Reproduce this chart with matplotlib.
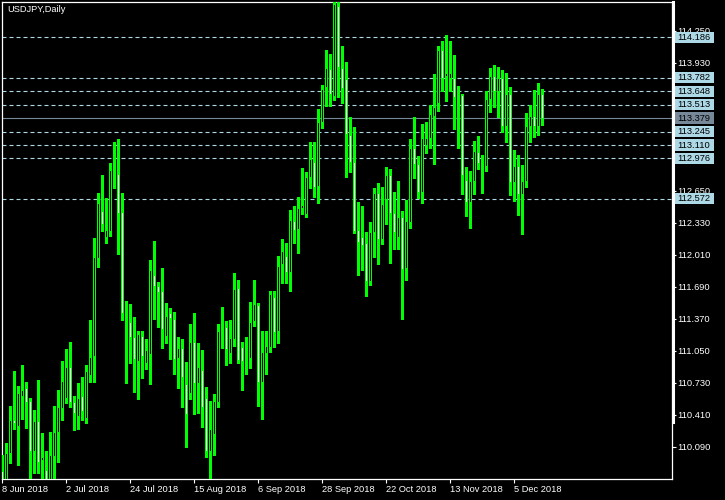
import matplotlib
matplotlib.use("Agg")
import matplotlib.pyplot as plt
import matplotlib.transforms as mtransforms
from matplotlib.patches import Rectangle
from matplotlib.lines import Line2D

plt.rcParams['font.family'] = ['Liberation Sans', 'DejaVu Sans']

# daily USDJPY bars, 8 Jun 2018 .. 14 Dec 2018
opens = [109.85, 109.70, 110.03, 110.36, 110.30, 110.60, 110.68, 110.54, 110.05, 110.35,
         109.96, 109.86, 109.70, 110.00, 110.24, 110.48, 110.58, 110.89, 110.54, 110.40,
         110.60, 110.38, 110.81, 111.00, 111.98, 112.45, 112.19, 112.25, 112.86, 112.82,
         112.44, 111.36, 111.34, 111.19, 110.95, 111.20, 110.93, 111.02, 111.81, 111.70,
         111.65, 111.20, 111.43, 111.37, 110.98, 111.08, 110.72, 110.63, 111.14, 110.73,
         110.86, 110.58, 110.05, 110.22, 110.54, 111.23, 111.29, 111.03, 111.17, 111.68,
         111.09, 111.04, 110.98, 111.35, 111.51, 110.74, 111.03, 111.09, 111.59, 111.25,
         111.92, 112.00, 111.84, 112.35, 112.27, 112.48, 112.42, 112.79, 112.94, 112.70,
         113.34, 113.69, 113.87, 113.60, 114.50, 113.88, 113.77, 113.21, 112.94, 112.26,
         112.18, 112.13, 111.75, 112.24, 112.63, 112.17, 112.57, 112.81, 112.43, 112.19,
         112.39, 111.88, 112.34, 113.08, 112.92, 112.64, 113.11, 113.18, 113.40, 113.53,
         114.06, 113.80, 113.78, 113.78, 113.59, 113.61, 112.76, 112.54, 112.75, 113.04,
         112.93, 112.90, 113.57, 113.80, 113.65, 113.78, 113.30, 113.62, 112.74, 112.90,
         112.62, 112.75, 113.30, 113.40, 113.30, 113.62]
highs = [110.00, 110.12, 110.49, 110.84, 110.69, 110.90, 110.73, 110.57, 110.45, 110.75,
         110.22, 110.04, 110.23, 110.49, 110.65, 110.94, 111.06, 111.13, 110.59, 110.72,
         110.78, 110.90, 111.35, 112.17, 112.62, 112.80, 112.57, 112.92, 113.13, 113.16,
         112.62, 111.54, 111.51, 111.38, 111.24, 111.24, 111.16, 111.95, 112.14, 111.73,
         111.87, 111.52, 111.47, 111.43, 111.18, 111.16, 110.93, 111.31, 111.42, 111.12,
         111.05, 110.68, 110.54, 110.61, 111.31, 111.48, 111.34, 111.35, 111.82, 111.75,
         111.13, 111.18, 111.53, 111.75, 111.52, 111.24, 111.24, 111.64, 111.64, 111.99,
         112.16, 112.12, 112.45, 112.49, 112.58, 112.87, 112.83, 113.13, 113.13, 113.46,
         113.70, 114.05, 114.01, 114.53, 114.53, 114.09, 113.93, 113.38, 113.28, 112.53,
         112.49, 112.23, 112.33, 112.67, 112.72, 112.68, 112.88, 112.86, 112.63, 112.74,
         112.44, 112.55, 113.16, 113.38, 112.99, 113.31, 113.33, 113.50, 113.81, 114.09,
         114.14, 114.20, 114.14, 114.00, 113.69, 113.61, 112.88, 112.84, 113.14, 113.19,
         113.00, 113.64, 113.87, 113.90, 113.88, 113.85, 113.82, 113.68, 113.05, 113.00,
         112.90, 113.42, 113.50, 113.65, 113.72, 113.66]
lows = [109.60, 109.60, 109.94, 110.28, 109.92, 110.38, 110.29, 109.75, 109.84, 109.84,
        109.79, 109.60, 109.60, 109.75, 109.95, 110.37, 110.54, 110.50, 110.27, 110.28,
        110.37, 110.34, 110.75, 110.75, 111.90, 112.26, 112.14, 112.21, 112.69, 112.03,
        111.37, 110.74, 110.94, 110.65, 110.58, 110.79, 110.88, 110.73, 111.38, 111.30,
        111.09, 111.14, 110.98, 110.83, 110.69, 110.50, 110.10, 110.58, 110.43, 110.44,
        110.30, 110.00, 109.77, 110.02, 110.50, 111.09, 110.92, 110.94, 111.11, 110.94,
        110.67, 110.83, 110.89, 111.31, 110.51, 110.38, 110.83, 111.05, 111.10, 111.14,
        111.74, 111.74, 111.66, 112.14, 112.04, 112.43, 112.40, 112.69, 112.60, 112.54,
        113.29, 113.51, 113.51, 113.57, 113.60, 113.54, 112.80, 112.85, 112.24, 111.82,
        111.87, 111.61, 111.72, 112.00, 111.93, 112.13, 112.33, 111.94, 112.08, 112.08,
        111.38, 111.77, 112.29, 112.79, 112.59, 112.54, 113.04, 113.09, 112.93, 113.46,
        113.66, 113.56, 113.66, 113.28, 113.09, 112.63, 112.41, 112.29, 112.63, 112.88,
        112.64, 112.86, 113.45, 113.50, 113.40, 113.25, 113.15, 112.62, 112.56, 112.42,
        112.23, 112.70, 113.15, 113.20, 113.22, 113.32]
closes = [109.72, 110.03, 110.36, 110.33, 110.62, 110.66, 110.54, 110.05, 110.35, 109.94,
          109.98, 109.70, 110.01, 110.24, 110.48, 110.75, 110.89, 110.54, 110.43, 110.58,
          110.45, 110.84, 110.99, 111.99, 112.53, 112.32, 112.26, 112.86, 112.84, 112.43,
          111.43, 111.34, 111.19, 110.97, 111.22, 111.00, 111.06, 111.86, 111.70, 111.64,
          111.27, 111.40, 111.38, 110.97, 111.08, 110.79, 110.42, 111.14, 110.73, 110.89,
          110.49, 110.05, 110.27, 110.54, 111.25, 111.25, 111.07, 111.18, 111.67, 110.96,
          110.95, 111.03, 111.34, 111.52, 110.74, 111.04, 111.10, 111.62, 111.24, 111.90,
          112.05, 111.84, 112.36, 112.26, 112.48, 112.51, 112.79, 112.97, 112.69, 113.34,
          113.67, 113.88, 113.62, 114.52, 113.89, 113.68, 113.22, 112.94, 112.25, 112.14,
          112.11, 111.75, 112.24, 112.63, 112.17, 112.52, 112.81, 112.43, 112.24, 112.39,
          111.87, 112.35, 113.08, 112.92, 112.64, 113.18, 113.18, 113.42, 113.49, 114.06,
          113.78, 113.83, 113.83, 113.59, 113.61, 112.81, 112.54, 112.75, 113.04, 112.93,
          112.92, 113.57, 113.80, 113.65, 113.78, 113.30, 113.62, 112.74, 112.90, 112.62,
          112.75, 113.30, 113.40, 113.30, 113.62, 113.379]

date_ticks = [0, 16, 32, 48, 64, 80, 96, 112, 128]
date_labels = ['8 Jun 2018', '2 Jul 2018', '24 Jul 2018', '15 Aug 2018', '6 Sep 2018',
               '28 Sep 2018', '22 Oct 2018', '13 Nov 2018', '5 Dec 2018']
price_ticks = [110.090, 110.410, 110.730, 111.050, 111.370, 111.690, 112.010, 112.330,
               112.650, 112.970, 113.290, 113.610, 113.930, 114.250]
hidden_ticks = [112.970, 113.290, 113.610]   # covered by the level boxes
levels = [114.186, 113.782, 113.648, 113.513, 113.245, 113.110, 112.976, 112.572]
bid = 113.379

W, H = 725, 500
fig = plt.figure(figsize=(W / 100, H / 100), dpi=100, facecolor='black')
ax = fig.add_axes([2 / W, 1 - 479 / H, 670 / W, 477 / H], facecolor='black')
ax.set_xlim(-0.075, 167.425)
ax.set_ylim(109.77, 114.54)

green = '#00ff00'
for i in range(len(opens)):
    o, h, l, c = opens[i], highs[i], lows[i], closes[i]
    ax.add_line(Line2D([i, i], [l, h], color=green, lw=0.75, antialiased=False, zorder=3))
    lo, hi = min(o, c), max(o, c)
    ax.add_patch(Rectangle((i - 0.375, lo - 0.005), 0.75, hi - lo + 0.01,
                           facecolor=green, edgecolor='none',
                           antialiased=False, zorder=4))
    if hi - lo > 0.02:
        fill = 'black' if c >= o else 'white'
        ax.add_patch(Rectangle((i - 0.125, lo + 0.005), 0.25, hi - lo - 0.01,
                               facecolor=fill, edgecolor='none',
                               antialiased=False, zorder=5))

for lv in levels:
    ax.axhline(lv, color='#add8e6', lw=0.8, ls=(0, (3.6, 2.7)), zorder=2)
ax.axhline(bid, color='#778899', lw=0.8, zorder=2)

for s in ax.spines.values():
    s.set_color('white')
    s.set_linewidth(0.9)

ax.yaxis.tick_right()
ax.set_yticks(price_ticks)
ax.set_yticklabels(['' if p in hidden_ticks else '%.3f' % p for p in price_ticks])
ax.tick_params(axis='y', colors='white', length=3, width=0.8, pad=1, labelsize=6.7)
ax.set_xticks(date_ticks)
ax.set_xticklabels(date_labels, ha='left')
ax.tick_params(axis='x', colors='white', length=3, width=0.8, pad=1, labelsize=6.7)

trans = mtransforms.blended_transform_factory(ax.transAxes, ax.transData)
for lv, fc in [(v, '#add8e6') for v in levels] + [(bid, '#778899')]:
    ax.add_patch(Rectangle((1.0045, lv - 0.056), 0.058, 0.112, transform=trans,
                           facecolor=fc, edgecolor='none', clip_on=False, zorder=6))
    ax.text(1.0075, lv, '%.3f' % lv, transform=trans, color='black', fontsize=6.7,
            va='center', ha='left', clip_on=False, zorder=7)

# thick part of the price scale border
fig.add_artist(Line2D([672.5 / W] * 2, [1 - 2 / H, 1 - 422 / H], color='white', lw=2.2))

fig.text(7 / W, 1 - 10 / H, 'USDJPY,Daily', color='white', fontsize=6.7, va='center')

fig.savefig('out.png', dpi=100, facecolor='black')
